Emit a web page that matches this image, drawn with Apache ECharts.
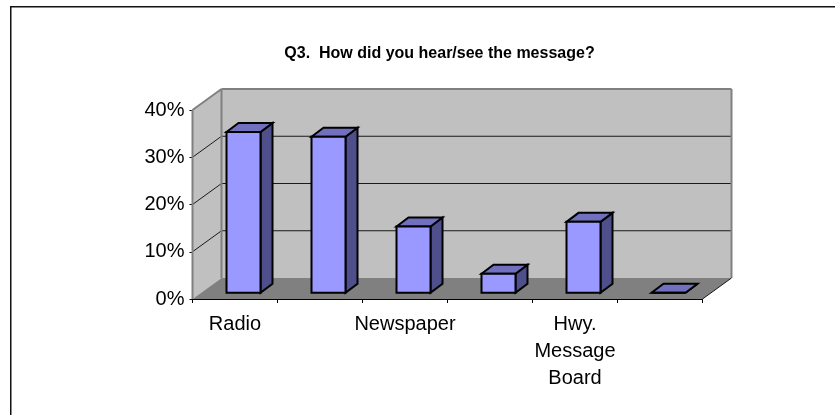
<!DOCTYPE html>
<html><head><meta charset="utf-8">
<style>html,body{margin:0;padding:0;background:#fff}#c{width:835px;height:415px}</style>
<script src="https://cdn.jsdelivr.net/npm/echarts@6/dist/echarts.min.js"></script>
</head><body><div id="c"></div>
<script>
const titleText = 'Q3.  How did you hear/see the message?';
const categories = ['Radio', '', 'Newspaper', '', 'Hwy.\nMessage\nBoard', ''];
const values = [34, 33, 14, 4, 15, 0];
const yTicks = [0, 10, 20, 30, 40];

const FONT = '"Liberation Sans", Arial, sans-serif';
const WALL_DX = 29, WALL_DY = 21;
const BAR_OFF_DX = 8.5, BAR_OFF_DY = 6.3, BAR_DX = 12, BAR_DY = 9;
const poly = (points, style, z2) => ({type: 'polygon', z2: z2 || 0, shape: {points}, style});
const seg = (a, b, stroke, lineWidth) => ({type: 'line', shape: {x1: a[0], y1: a[1], x2: b[0], y2: b[1]}, style: {stroke, lineWidth}});

function renderWalls(params, api) {
  const band = api.size([1, 0])[0];
  const first = api.coord([0, 0])[0] - band / 2;
  const last = api.coord([categories.length - 1, 0])[0] + band / 2;
  const yOf = v => api.coord([0, v])[1];
  const y0 = yOf(yTicks[0]), yT = yOf(yTicks[yTicks.length - 1]);
  const kids = [];
  kids.push(poly([[first + WALL_DX, yT - WALL_DY], [last + WALL_DX, yT - WALL_DY], [last + WALL_DX, y0 - WALL_DY], [first + WALL_DX, y0 - WALL_DY]], {fill: '#C0C0C0'}));
  kids.push(poly([[first, yT], [first + WALL_DX, yT - WALL_DY], [first + WALL_DX, y0 - WALL_DY], [first, y0]], {fill: '#C0C0C0'}));
  kids.push(poly([[first, y0], [first + WALL_DX, y0 - WALL_DY], [last + WALL_DX, y0 - WALL_DY], [last, y0]], {fill: '#808080'}));
  yTicks.slice(1, -1).forEach(v => {
    const y = yOf(v);
    kids.push(seg([first, y], [first + WALL_DX, y - WALL_DY], '#1a1a1a', 1));
    kids.push(seg([first + WALL_DX, y - WALL_DY], [last + WALL_DX, y - WALL_DY], '#1a1a1a', 1));
  });
  const g = '#808080';
  kids.push(seg([first, yT], [first + WALL_DX, yT - WALL_DY], g, 2));
  kids.push(seg([first + WALL_DX, yT - WALL_DY], [last + WALL_DX, yT - WALL_DY], g, 2));
  kids.push(seg([first + WALL_DX, yT - WALL_DY], [first + WALL_DX, y0 - WALL_DY], g, 2));
  kids.push(seg([last + WALL_DX, yT - WALL_DY], [last + WALL_DX, y0 - WALL_DY], g, 2));
  kids.push(seg([first, yT], [first, y0], g, 2));
  kids.push(seg([last, y0], [last + WALL_DX, y0 - WALL_DY], '#1a1a1a', 1));
  return {type: 'group', children: kids};
}

function renderBar(params, api) {
  const c = api.coord([api.value(0), api.value(1)]);
  const base = api.coord([api.value(0), 0]);
  const w = api.size([1, 0])[0] * 0.4;
  const l = c[0] + BAR_OFF_DX - w / 2, r = l + w;
  const t = c[1] - BAR_OFF_DY, b = base[1] - BAR_OFF_DY;
  const st = fill => ({fill, stroke: '#000', lineWidth: 2, lineJoin: 'miter'});
  return {type: 'group', children: [
    poly([[r, t], [r + BAR_DX, t - BAR_DY], [r + BAR_DX, b - BAR_DY], [r, b]], st('#4F4F8C')),
    poly([[l, t], [l + BAR_DX, t - BAR_DY], [r + BAR_DX, t - BAR_DY], [r, t]], st('#7070BF')),
    poly([[l, t], [r, t], [r, b], [l, b]], st('#9999FF'))
  ]};
}

const chart = echarts.init(document.getElementById('c'), null, {renderer: 'canvas'});
chart.setOption({
  animation: false,
  backgroundColor: '#fff',
  title: {text: titleText, left: 434.5, top: 41, textAlign: 'center',
    textStyle: {fontFamily: FONT, fontSize: 16, fontWeight: 'bold', color: '#000'}},
  graphic: [
    {type: 'rect', shape: {x: 10, y: 6, width: 1.5, height: 409}, style: {fill: '#111'}},
    {type: 'rect', shape: {x: 10, y: 6, width: 825, height: 1.5}, style: {fill: '#111'}}
  ],
  grid: {left: 192.5, right: 132.5, top: 110, bottom: 116},
  xAxis: {type: 'category', data: categories,
    axisLine: {onZero: false, lineStyle: {color: '#000', width: 1}},
    axisTick: {show: true, alignWithLabel: false, length: 4, lineStyle: {color: '#000'}},
    axisLabel: {interval: 0, color: '#000', fontFamily: FONT, fontSize: 20, lineHeight: 27, margin: 12, align: 'center'},
    splitLine: {show: false}},
  yAxis: {type: 'value', min: 0, max: 40, interval: 10,
    axisLine: {show: false},
    axisTick: {show: true, length: 3, lineStyle: {color: '#000'}},
    axisLabel: {color: '#000', fontFamily: FONT, fontSize: 20, margin: 8, formatter: '{value}%'},
    splitLine: {show: false}},
  series: [
    {type: 'custom', name: 'walls', z: 1, silent: true, clip: false, renderItem: renderWalls, data: [[0, 0]], encode: {x: 0, y: 1}},
    {type: 'custom', name: 'bars', z: 3, silent: true, clip: false, renderItem: renderBar,
      data: values.map((v, i) => [i, v]), encode: {x: 0, y: 1}}
  ]
});
</script></body></html>
